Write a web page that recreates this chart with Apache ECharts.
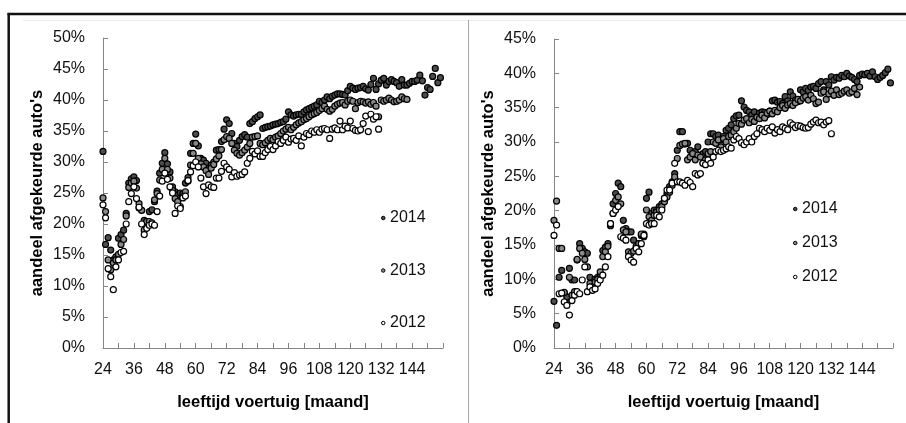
<!DOCTYPE html>
<html><head><meta charset="utf-8">
<script src="https://cdn.jsdelivr.net/npm/echarts@6/dist/echarts.min.js"></script>
<style>html,body{margin:0;padding:0;background:#fff}#c{width:906px;height:423px}</style>
</head><body><div id="c"></div>
<script>
// age (months) of the first point of every series
const ageStart = 24;
const seriesNames = ['2014', '2013', '2012'];
const xTickLabels = [24, 36, 48, 60, 72, 84, 96, 108, 120, 132, 144];
const xMin = 24, xMax = 156, xStep = 6;
const leftYMax = 50, rightYMax = 45, yStep = 5;

// LEFT panel: share of rejected cars (%) per month of age, from 24 months
const left2014 = [31.7,16.7,17.8,15.8,14.2,14.7,17.7,18.3,19.0,21.7,
26.6,27.3,27.6,27.0,22.6,22.2,20.6,20.4,22.0,22.3,
23.6,25.3,28.2,29.8,31.5,29.7,28.4,26.0,25.2,24.7,
25.0,24.9,26.6,27.5,31.4,33.0,34.5,32.6,30.6,30.3,
29.8,29.0,29.5,30.0,31.9,32.0,33.3,35.3,36.8,36.2,
34.6,33.0,32.5,33.5,34.1,34.4,34.0,36.2,36.5,37.0,
37.3,37.6,35.4,35.6,35.7,35.8,36.0,36.1,36.2,36.4,
36.5,36.9,38.1,37.6,37.4,37.6,37.7,37.7,38.1,38.4,
38.6,38.8,39.0,39.2,39.8,39.6,40.0,40.5,40.2,40.6,
40.8,41.0,41.0,40.9,40.8,41.5,42.2,41.9,41.7,41.9,
42.0,42.2,41.8,41.6,42.5,43.5,41.7,42.6,43.2,43.5,
42.4,43.0,43.3,43.0,42.8,42.2,43.3,42.4,42.4,42.7,
43.0,43.0,43.2,44.0,43.1,40.8,42.0,41.7,43.8,45.1,
42.8,43.6];
const left2013 = [24.2,22.0,14.2,12.6,13.7,14.2,15.1,16.7,17.5,21.3,
25.9,26.6,26.9,25.8,23.3,22.2,19.0,20.4,20.4,20.2,
23.9,24.9,27.1,28.8,30.6,28.8,27.4,25.4,24.1,23.6,
22.8,24.4,25.2,26.9,29.5,31.4,33.0,30.6,29.7,29.2,
28.6,28.0,29.0,29.6,30.5,31.0,32.0,33.6,34.1,33.8,
33.0,31.9,31.4,31.1,31.5,31.9,32.4,33.0,34.0,34.1,
34.2,33.0,32.8,33.1,33.5,33.8,33.6,34.0,34.2,34.6,
35.0,35.3,35.6,35.2,35.6,36.0,36.3,36.5,36.8,37.0,
37.3,37.6,37.8,38.0,38.3,38.6,39.0,38.5,38.2,38.5,
39.0,39.3,39.5,39.6,39.2,39.8,40.0,39.8,38.6,39.6,
39.8,39.7,39.5,39.7,39.3,39.6,39.0,37.3,40.0,39.8,
40.0,40.3,40.0,39.7,39.8,40.0,40.5,40.2,40.1];
const left2012 = [23.1,21.0,12.8,11.5,9.4,13.1,14.2,15.4,15.6,20.0,
23.6,24.9,26.0,24.1,22.7,20.0,18.3,19.3,19.8,20.0,
19.8,22.0,24.5,26.9,28.2,27.2,26.0,25.0,21.7,22.9,
22.5,24.2,24.5,27.0,28.4,29.4,30.0,29.2,27.4,26.0,
24.9,26.3,26.0,25.9,27.4,27.4,28.5,29.8,29.2,28.8,
27.6,28.3,27.7,27.9,28.0,28.4,29.8,30.6,31.7,31.3,
31.8,30.9,30.9,31.5,32.0,32.5,32.0,32.6,33.3,33.0,
33.5,34.0,33.2,33.7,33.8,33.5,34.2,32.6,34.0,34.6,
34.4,35.0,34.8,35.2,34.8,35.3,35.4,35.2,33.8,35.3,
35.5,35.2,36.6,35.2,35.8,35.5,36.6,35.4,35.1,35.0,
35.2,36.2,37.4,34.9,37.7,36.9,37.3,35.3];

// RIGHT panel
const right2014 = [6.8,3.3,10.3,11.3,8.0,7.4,11.6,9.9,9.9,12.8,
15.2,14.5,14.0,13.8,10.3,9.4,10.0,10.3,10.6,14.2,
14.7,15.2,17.8,21.0,22.5,24.0,23.5,18.6,17.4,16.9,
16.9,15.7,14.5,15.2,16.4,16.6,21.8,22.7,19.6,20.1,
20.1,20.6,21.0,21.8,22.5,23.5,24.2,25.4,28.8,31.5,
31.5,29.7,29.8,28.8,28.3,28.6,29.3,28.1,28.3,28.6,
30.0,31.2,31.2,30.8,31.0,30.3,30.8,31.7,32.0,32.5,
33.4,33.8,33.9,36.0,35.1,34.6,34.4,33.9,34.4,33.7,
34.2,34.4,34.3,34.0,34.5,36.0,36.1,35.8,35.9,35.6,
36.6,36.0,37.3,36.7,36.1,35.9,37.6,37.3,37.8,37.5,
38.0,38.1,37.8,38.5,38.8,37.6,38.8,38.3,39.5,39.0,
39.4,39.3,39.7,39.5,40.0,39.6,39.4,39.1,38.8,39.7,
39.9,39.8,40.0,39.6,40.2,39.5,39.1,39.4,39.7,40.1,
40.6,38.6];
const right2013 = [18.6,21.4,14.5,14.5,8.1,6.5,10.3,7.7,8.2,12.9,
14.5,13.8,12.9,11.8,9.4,8.9,9.6,10.0,11.1,13.3,
14.0,14.8,18.1,19.6,21.5,22.0,21.0,17.2,16.9,14.0,
13.8,14.1,14.8,15.2,16.6,16.2,20.1,19.1,18.6,19.3,
19.8,20.1,20.6,21.3,22.0,22.7,23.7,24.9,27.6,29.5,
29.7,29.8,27.4,27.8,28.3,27.4,28.1,27.8,26.9,27.4,
28.3,28.6,30.0,29.8,30.3,29.3,30.5,30.0,30.8,31.0,
31.5,32.0,32.7,32.6,33.2,33.4,32.8,33.3,33.0,33.6,
33.4,33.9,33.5,34.2,34.5,34.1,34.6,34.4,35.0,35.3,
34.9,35.4,35.6,35.3,35.7,36.2,36.0,36.4,36.6,36.1,
36.8,36.3,35.6,35.8,37.1,37.3,36.2,37.0,37.4,36.8,
37.6,36.9,37.1,37.4,37.6,37.1,37.3,37.8,36.9,38.0];
const right2012 = [16.4,17.9,7.9,8.0,6.7,6.2,4.8,6.9,7.7,8.2,
7.9,9.9,11.8,8.2,8.9,8.4,8.6,9.4,9.9,10.6,
11.8,13.3,18.1,19.6,20.1,20.6,16.2,16.0,15.7,13.3,
12.8,12.5,14.5,14.0,15.2,16.4,18.1,17.9,18.1,18.1,
19.3,19.1,20.1,21.8,23.0,23.0,24.0,26.9,24.2,24.2,
24.0,23.7,24.4,24.1,23.5,25.4,25.2,25.4,26.9,26.7,
27.4,26.9,27.8,28.6,28.8,28.6,28.8,29.0,29.3,29.1,
30.3,30.8,30.5,29.9,29.6,30.0,30.5,30.0,30.8,31.2,
32.0,31.8,31.5,32.0,31.7,32.2,31.3,31.8,31.5,32.2,
32.0,31.8,32.8,32.5,32.1,32.4,32.3,32.1,32.0,32.1,
32.6,32.9,33.2,32.8,32.9,32.5,32.9,33.1,31.2];

const FONT = 'Liberation Sans';
const fills = {'2014': '#4d4d4d', '2013': '#8a8a8a', '2012': '#ffffff'};
const axisGray = '#868686';
const textColor = '#111';

function pts(vals) { return vals.map((v, i) => [ageStart + i, v]); }

function xAxisCfg(gi) {
  return {
    gridIndex: gi, type: 'value', min: xMin, max: xMax, interval: xStep,
    axisLine: {show: true, lineStyle: {color: axisGray, width: 1}},
    axisTick: {show: true, inside: true, length: 5, lineStyle: {color: axisGray}},
    splitLine: {show: false},
    axisLabel: {
      formatter: v => xTickLabels.indexOf(v) >= 0 ? String(v) : '',
      fontFamily: FONT, fontSize: 16, color: textColor, margin: 14
    },
    name: 'leeftijd voertuig [maand]', nameLocation: 'middle', nameGap: 46,
    nameTextStyle: {fontFamily: FONT, fontSize: 16.5, fontWeight: 'bold', color: '#000'}
  };
}
function yAxisCfg(gi, max) {
  return {
    gridIndex: gi, type: 'value', min: 0, max: max, interval: yStep,
    axisLine: {show: true, lineStyle: {color: axisGray, width: 1}},
    axisTick: {show: true, inside: true, length: 5, lineStyle: {color: axisGray}},
    splitLine: {show: false},
    axisLabel: {formatter: '{value}%', fontFamily: FONT, fontSize: 16, color: textColor, margin: 18},
    name: "aandeel afgekeurde auto's", nameLocation: 'middle', nameGap: 57, nameRotate: 90,
    nameTextStyle: {fontFamily: FONT, fontSize: 16.5, fontWeight: 'bold', color: '#000'}
  };
}
function sc(name, vals, gi) {
  return {
    name: name, type: 'scatter', xAxisIndex: gi, yAxisIndex: gi,
    data: pts(vals), symbol: 'circle', symbolSize: 6,
    itemStyle: {color: fills[name], borderColor: '#000', borderWidth: 1.2, opacity: 1},
    emphasis: {disabled: true}
  };
}
function legendCfg(left, top, gap) {
  return {
    data: seriesNames, orient: 'vertical', left: left, top: top,
    itemWidth: 3.5, itemHeight: 3.5, itemGap: gap, selectedMode: false,
    itemStyle: {borderWidth: 1},
    textStyle: {fontFamily: FONT, fontSize: 16, lineHeight: 16, color: textColor}
  };
}

const chart = echarts.init(document.getElementById('c'), null, {renderer: 'canvas'});
chart.setOption({
  animation: false,
  backgroundColor: '#fff',
  grid: [
    {left: 103, top: 38, width: 340, height: 310},
    {left: 554, top: 39, width: 339, height: 309}
  ],
  xAxis: [xAxisCfg(0), xAxisCfg(1)],
  yAxis: [yAxisCfg(0, leftYMax), yAxisCfg(1, rightYMax)],
  legend: [legendCfg(376, 205, 36.5), legendCfg(788, 196, 18)],
  series: [
    sc('2014', left2014, 0), sc('2013', left2013, 0), sc('2012', left2012, 0),
    sc('2014', right2014, 1), sc('2013', right2013, 1), sc('2012', right2012, 1)
  ],
  graphic: [
    {type: 'line', silent: true, shape: {x1: 23, y1: 20.5, x2: 906, y2: 20.5}, style: {stroke: '#ececec', lineWidth: 1}},
    {type: 'line', silent: true, shape: {x1: 468.5, y1: 20, x2: 468.5, y2: 423}, style: {stroke: '#a6a6a6', lineWidth: 1}},
    {type: 'line', silent: true, shape: {x1: 7.5, y1: 14, x2: 906, y2: 14}, style: {stroke: '#111', lineWidth: 2.5}},
    {type: 'line', silent: true, shape: {x1: 8.7, y1: 13, x2: 8.7, y2: 423}, style: {stroke: '#111', lineWidth: 2.5}}
  ]
});
</script></body></html>
